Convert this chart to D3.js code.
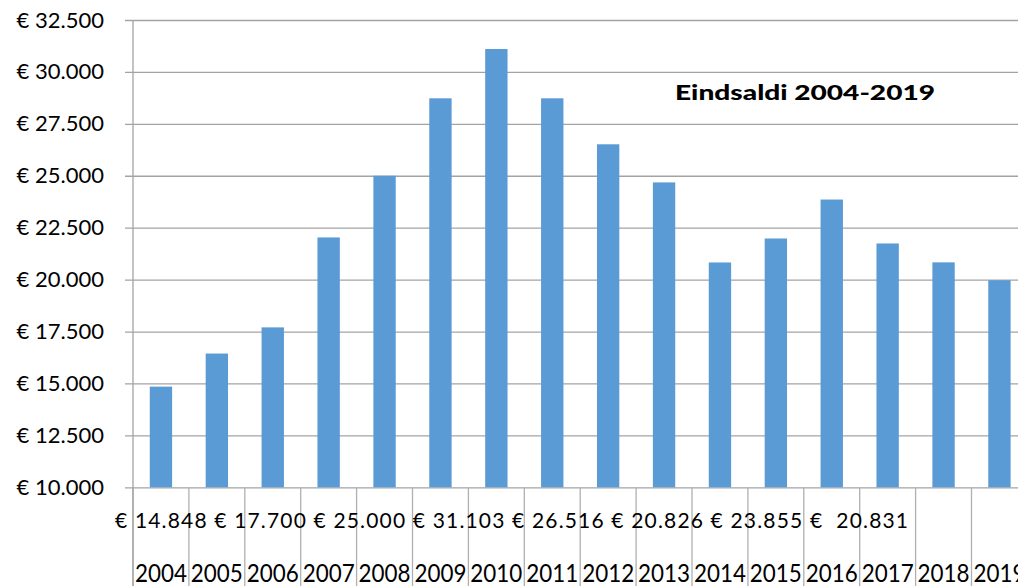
<!DOCTYPE html>
<html>
<head>
<meta charset="utf-8">
<script src="https://cdn.jsdelivr.net/npm/d3@7"></script>
<style>
  html, body { margin: 0; padding: 0; background: #fff; overflow: hidden; }
  svg { display: block; font-family: Lato, "Noto Sans", sans-serif; }
</style>
</head>
<body>
<div id="grafico"></div>
<script>
// data (even years from the printed labels, odd years estimated)
const years = ["2004", "2005", "2006", "2007", "2008", "2009", "2010", "2011",
               "2012", "2013", "2014", "2015", "2016", "2017", "2018", "2019"];
const saldo = [14848, 16440, 17700, 22030, 25000, 28730, 31103, 28730,
               26516, 24680, 20826, 21980, 23855, 21740, 20831, 19970];
const yTicks = [10000, 12500, 15000, 17500, 20000, 22500, 25000, 27500, 30000, 32500];
// the row of value labels under the axis (every other year)
const valueLabels = ["€ 14.848", "€ 17.700", "€ 25.000", "€ 31.103",
                     "€ 26.516", "€ 20.826", "€ 23.855", "€  20.831"];
const title = "Eindsaldi 2004-2019";

const width = 1018, height = 586;
const plotLeft = 133, plotTop = 20, plotBottom = 487.3;
const step = 55.9;

const nl = d3.formatLocale({ decimal: ",", thousands: ".", grouping: [3], currency: ["€ ", ""] });
const fmt = nl.format("$,.0f");

const svg = d3.select("#grafico").append("svg")
  .attr("width", width)
  .attr("height", height);

// scales
const x = d3.scaleBand()
  .domain(years)
  .range([plotLeft, plotLeft + step * years.length])
  .paddingInner(0.6)
  .paddingOuter(0.3);

const y = d3.scaleLinear()
  .domain([10000, 32500])
  .range([plotBottom, plotTop]);

// gridlines + y labels
const yAxis = svg.append("g")
  .attr("transform", `translate(${plotLeft},0)`)
  .call(d3.axisLeft(y).tickValues(yTicks).tickFormat(fmt)
    .tickSizeInner(-(width - plotLeft)).tickSizeOuter(0).tickPadding(29));
yAxis.select(".domain").remove();
yAxis.selectAll(".tick line")
  .attr("x1", -8)
  .attr("stroke", "#a3a3a3")
  .attr("stroke-width", 1.3);
yAxis.selectAll(".tick text")
  .attr("fill", "#000")
  .style("font-size", "22px")
  .attr("font-family", "Lato, sans-serif");

// category boundary lines under the axis
const bounds = d3.range(years.length + 1).map(i => plotLeft + i * x.step());
svg.append("g").selectAll("line")
  .data(bounds)
  .join("line")
  .attr("x1", d => d).attr("x2", d => d)
  .attr("y1", plotBottom).attr("y2", height)
  .attr("stroke", "#b0b0b0")
  .attr("stroke-width", 1.3);

// y axis line
svg.append("line")
  .attr("x1", plotLeft).attr("x2", plotLeft)
  .attr("y1", plotTop).attr("y2", height)
  .attr("stroke", "#a3a3a3")
  .attr("stroke-width", 1.3);

// bars
svg.append("g").selectAll("rect")
  .data(years)
  .join("rect")
  .attr("x", d => x(d))
  .attr("y", (d, i) => y(saldo[i]))
  .attr("width", x.bandwidth())
  .attr("height", (d, i) => y(10000) - y(saldo[i]))
  .attr("fill", "#5b9bd5");

// value label row
svg.append("text")
  .attr("x", 115)
  .attr("y", 528)
  .attr("textLength", 793)
  .attr("lengthAdjust", "spacing")
  .style("font-size", "21px")
  .style("white-space", "pre")
  .attr("fill", "#000")
  .text(valueLabels.join(" "));

// year labels
svg.append("g").selectAll("text")
  .data(years)
  .join("text")
  .attr("x", d => x(d) + x.bandwidth() / 2)
  .attr("y", 581.5)
  .attr("text-anchor", "middle")
  .attr("textLength", 52)
  .attr("lengthAdjust", "spacingAndGlyphs")
  .style("font-size", "24.5px")
  .attr("fill", "#000")
  .text(d => d);

// title
svg.append("text")
  .attr("x", 675)
  .attr("y", 100)
  .attr("textLength", 260)
  .attr("lengthAdjust", "spacingAndGlyphs")
  .style("font-size", "21px")
  .style("font-weight", "900")
  .attr("fill", "#000")
  .text(title);
</script>
</body>
</html>
